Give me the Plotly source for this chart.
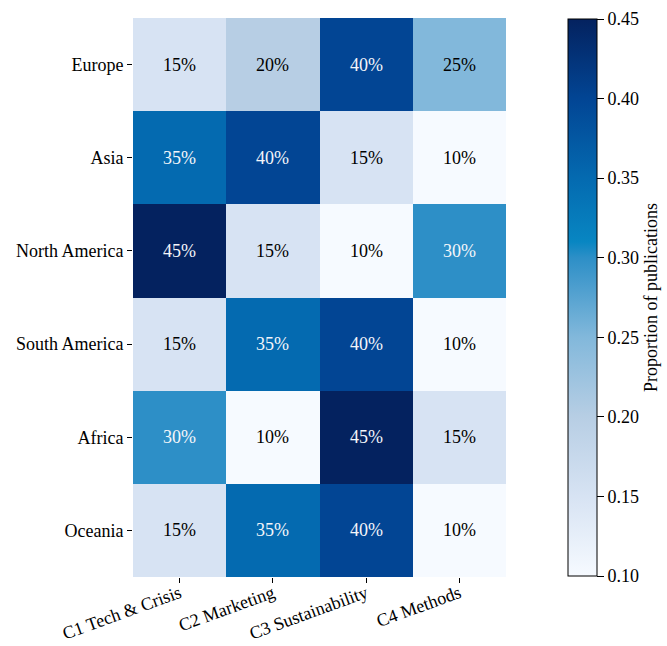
import plotly.graph_objects as go

regions = ["Europe", "Asia", "North America", "South America", "Africa", "Oceania"]
clusters = ["C1 Tech & Crisis", "C2 Marketing", "C3 Sustainability", "C4 Methods"]
europe = [0.15, 0.20, 0.40, 0.25]
asia = [0.35, 0.40, 0.15, 0.10]
north_america = [0.45, 0.15, 0.10, 0.30]
south_america = [0.15, 0.35, 0.40, 0.10]
africa = [0.30, 0.10, 0.45, 0.15]
oceania = [0.15, 0.35, 0.40, 0.10]
z = [europe, asia, north_america, south_america, africa, oceania]

cbar_ticks = [0.10, 0.15, 0.20, 0.25, 0.30, 0.35, 0.40, 0.45]
ZMIN, ZMAX = 0.10, 0.45

# colour stops (value, colour) sampled from the reference colour bar
scale_vals = [0.10, 0.15, 0.20, 0.25, 0.30, 0.31, 0.35, 0.40, 0.45]
scale_cols = ["rgb(246,250,255)", "rgb(215,227,243)", "rgb(183,206,228)", "rgb(130,184,219)",
              "rgb(45,143,199)", "rgb(8,134,194)", "rgb(4,106,176)", "rgb(2,69,148)", "rgb(4,34,95)"]
colorscale = [[(v - ZMIN) / (ZMAX - ZMIN), c] for v, c in zip(scale_vals, scale_cols)]

FONT = "Liberation Serif, Times New Roman, serif"
W, H = 667, 646
L, R, T, B = 133, 161, 18, 69

fig = go.Figure(go.Heatmap(
    z=z, x=clusters, y=regions,
    zmin=ZMIN, zmax=ZMAX, colorscale=colorscale,
    xgap=0, ygap=0,
    colorbar=dict(
        thickness=29, thicknessmode="pixels",
        len=557, lenmode="pixels",
        x=(568 - L) / (W - L - R), xanchor="left", xpad=0,
        y=0.5, yanchor="middle", ypad=0,
        outlinewidth=1, outlinecolor="black",
        ticks="outside", ticklen=7, tickwidth=1, tickcolor="black",
        tickvals=cbar_ticks, ticktext=[f"{v:.2f}" for v in cbar_ticks],
        tickfont=dict(family=FONT, size=18, color="black"),
        title=dict(text="Proportion of publications", side="right",
                   font=dict(family=FONT, size=18, color="black")),
    ),
    hoverinfo="skip",
))

annotations = []
for i, r in enumerate(regions):
    for j, c in enumerate(clusters):
        v = z[i][j]
        annotations.append(dict(
            x=c, y=r, xref="x", yref="y", text=f"{v * 100:.0f}%", showarrow=False,
            font=dict(family=FONT, size=18, color="#f4f6fa" if v >= 0.30 else "black"),
        ))

fig.update_layout(
    width=W, height=H,
    margin=dict(l=L, r=R, t=T, b=B, autoexpand=False),
    paper_bgcolor="white", plot_bgcolor="white",
    annotations=annotations,
    font=dict(family=FONT, size=18, color="black"),
    xaxis=dict(showgrid=False, zeroline=False, showline=False,
               ticks="outside", ticklen=5, tickwidth=1, tickcolor="black",
               ticklabelstandoff=-7,
               tickangle=-20, tickfont=dict(family=FONT, size=18, color="black")),
    yaxis=dict(showgrid=False, zeroline=False, showline=False, autorange="reversed",
               ticks="outside", ticklen=5, tickwidth=1, tickcolor="black",
               tickfont=dict(family=FONT, size=18, color="black")),
)

fig.write_html("out.html")
